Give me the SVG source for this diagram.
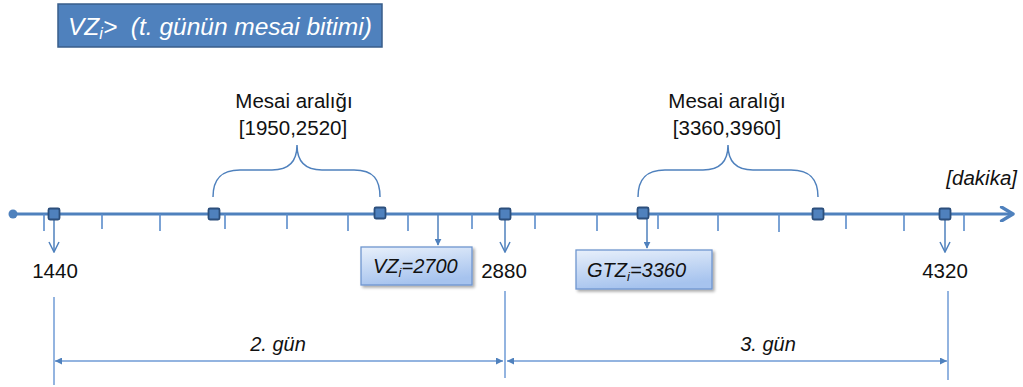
<svg xmlns="http://www.w3.org/2000/svg" width="1023" height="387" viewBox="0 0 1023 387">
  <style>
    .t { font-family: "Liberation Sans", Arial, sans-serif; fill: #111; }
    .num { font-size: 20.5px; text-anchor: middle; }
    .it { font-style: italic; }
    .axis { stroke: #4F81BD; stroke-width: 3; fill: none; }
    .tick { stroke: #5B8CCB; stroke-width: 1.6; }
    .mark { fill: #4F81BD; stroke: #2C4F7C; stroke-width: 1.8; }
    .down { stroke: #4F81BD; stroke-width: 1.5; fill: none; }
    .brace { stroke: #4F81BD; stroke-width: 1.5; fill: none; }
    .dim { stroke: #6F9BD6; stroke-width: 1.5; fill: none; }
    .box { fill: url(#boxFill); stroke: #6F96CF; stroke-width: 1.3; }
  </style>
  <defs>
    <linearGradient id="boxFill" x1="0" y1="0" x2="0.3" y2="1">
      <stop offset="0" stop-color="#E8F0FB"/>
      <stop offset="1" stop-color="#A6C3EE"/>
    </linearGradient>
    <filter id="shadow" x="-10%" y="-20%" width="130%" height="150%">
      <feGaussianBlur in="SourceAlpha" stdDeviation="1.5"/>
      <feOffset dx="1.5" dy="2" result="b"/>
      <feComponentTransfer><feFuncA type="linear" slope="0.35"/></feComponentTransfer>
      <feMerge><feMergeNode/><feMergeNode in="SourceGraphic"/></feMerge>
    </filter>
    <marker id="solidHead" viewBox="0 0 10 10" refX="9" refY="5" markerWidth="7" markerHeight="7" markerUnits="userSpaceOnUse" orient="auto">
      <path d="M0,0 L10,5 L0,10 Z" fill="#4F81BD"/>
    </marker>
    <marker id="openHead" viewBox="0 0 12 12" refX="11" refY="6" markerWidth="12" markerHeight="12" markerUnits="userSpaceOnUse" orient="auto">
      <path d="M1,1 L11,6 L1,11" fill="none" stroke="#4F81BD" stroke-width="1.5"/>
    </marker>
    <marker id="dimHead" viewBox="0 0 10 10" refX="10" refY="5" markerWidth="7" markerHeight="7" markerUnits="userSpaceOnUse" orient="auto-start-reverse">
      <path d="M0,0 L10,5 L0,10 Z" fill="#4F81BD"/>
    </marker>
    <marker id="axisHead" viewBox="0 0 14 14" refX="12" refY="7" markerWidth="16" markerHeight="16" markerUnits="userSpaceOnUse" orient="auto">
      <path d="M2,1 L12,7 L2,13" fill="none" stroke="#4F81BD" stroke-width="3" stroke-linecap="round" stroke-linejoin="round"/>
    </marker>
  </defs>

  <!-- title box -->
  <g id="title">
    <rect x="58" y="4" width="324" height="43" fill="#4F81BD" stroke="#385D8A" stroke-width="1.5"/>
    <text x="68" y="35" font-family="Liberation Sans, Arial, sans-serif" font-size="24.5" font-style="italic" fill="#fff" xml:space="preserve">VZ<tspan font-size="16" dy="4">i</tspan><tspan dy="-4">&gt;  (t. günün mesai bitimi)</tspan></text>
  </g>

  <!-- time axis -->
  <g id="connectors">
    <circle cx="13" cy="214" r="4.5" fill="#4F81BD"/>
    <line class="axis" x1="13" y1="214" x2="1013" y2="214" marker-end="url(#axisHead)"/>
    <g class="tick">
      <line x1="44" y1="214" x2="44" y2="231"/>
      <line x1="102" y1="214" x2="102" y2="229"/>
      <line x1="160" y1="214" x2="160" y2="231"/>
      <line x1="225" y1="214" x2="225" y2="229"/>
      <line x1="287" y1="214" x2="287" y2="229"/>
      <line x1="348" y1="214" x2="348" y2="231"/>
      <line x1="408" y1="214" x2="408" y2="231"/>
      <line x1="472" y1="214" x2="472" y2="229"/>
      <line x1="535" y1="214" x2="535" y2="229"/>
      <line x1="597" y1="214" x2="597" y2="231"/>
      <line x1="658" y1="214" x2="658" y2="229"/>
      <line x1="718" y1="214" x2="718" y2="231"/>
      <line x1="779" y1="214" x2="779" y2="232"/>
      <line x1="846" y1="214" x2="846" y2="229"/>
      <line x1="904" y1="214" x2="904" y2="231"/>
      <line x1="964" y1="214" x2="964" y2="231"/>
    </g>
    <!-- day boundaries -->
    <line class="down" x1="54" y1="219" x2="54" y2="252" marker-end="url(#openHead)"/>
    <line class="down" x1="505" y1="219" x2="505" y2="252" marker-end="url(#openHead)"/>
    <line class="down" x1="945" y1="219" x2="945" y2="252" marker-end="url(#openHead)"/>
    <!-- value pointers -->
    <line class="down" x1="438" y1="215" x2="438" y2="245" marker-end="url(#solidHead)"/>
    <line class="down" x1="647" y1="219" x2="647" y2="248" marker-end="url(#solidHead)"/>
    <!-- working-hour braces -->
    <path class="brace" d="M213,197 C213,180 220,170 240,170 L272,170 C290,170 297,160 297,145 C297,160 304,170 322,170 L354,170 C374,170 380,180 380,197"/>
    <path class="brace" d="M638,197 C638,180 645,170 665,170 L703,170 C721,170 728,160 728,145 C728,160 735,170 753,170 L791,170 C811,170 818,180 818,197"/>
    <!-- day spans -->
    <line class="dim" x1="54" y1="297" x2="54" y2="385"/>
    <line class="dim" x1="505" y1="291" x2="505" y2="378"/>
    <line class="dim" x1="948" y1="291" x2="948" y2="380"/>
    <line class="dim" x1="55" y1="361" x2="503" y2="361" marker-start="url(#dimHead)" marker-end="url(#dimHead)"/>
    <line class="dim" x1="507" y1="361" x2="947" y2="361" marker-start="url(#dimHead)" marker-end="url(#dimHead)"/>
  </g>

  <!-- axis markers -->
  <g id="m1440"><rect class="mark" x="48.5" y="208.5" width="11" height="11" rx="1.5"/></g>
  <g id="m1950"><rect class="mark" x="208.5" y="208.5" width="11" height="11" rx="1.5"/></g>
  <g id="m2520"><rect class="mark" x="374.5" y="207.5" width="11" height="11" rx="1.5"/></g>
  <g id="m2880"><rect class="mark" x="499.5" y="208.5" width="11" height="11" rx="1.5"/></g>
  <g id="m3360"><rect class="mark" x="637.5" y="207.5" width="11" height="11" rx="1.5"/></g>
  <g id="m3960"><rect class="mark" x="812.5" y="208.5" width="11" height="11" rx="1.5"/></g>
  <g id="m4320"><rect class="mark" x="939.5" y="208.5" width="11" height="11" rx="1.5"/></g>

  <!-- labels -->
  <g id="lbl1440"><text class="t num" x="55" y="278">1440</text></g>
  <g id="lbl2880"><text class="t num" x="504" y="278">2880</text></g>
  <g id="lbl4320"><text class="t num" x="945" y="278">4320</text></g>
  <g id="unit"><text class="t it" x="1017" y="185" font-size="20.5" text-anchor="end">[dakika]</text></g>

  <g id="shift1">
    <text class="t" x="294" y="108" font-size="20.5" text-anchor="middle">Mesai aralığı</text>
    <text class="t" x="293" y="135" font-size="20.5" text-anchor="middle">[1950,2520]</text>
  </g>
  <g id="shift2">
    <text class="t" x="727" y="108" font-size="20.5" text-anchor="middle">Mesai aralığı</text>
    <text class="t" x="727" y="135" font-size="20.5" text-anchor="middle">[3360,3960]</text>
  </g>

  <g id="vz">
    <rect class="box" x="361" y="247" width="111" height="38" filter="url(#shadow)"/>
    <text class="t it" x="373" y="273" font-size="20">VZ<tspan font-size="13" dy="4">i</tspan><tspan dy="-4">=2700</tspan></text>
  </g>
  <g id="gtz">
    <rect class="box" x="576" y="250" width="136" height="39" filter="url(#shadow)"/>
    <text class="t it" x="587" y="277" font-size="20">GTZ<tspan font-size="13" dy="4">i</tspan><tspan dy="-4">=3360</tspan></text>
  </g>

  <g id="day2"><text class="t it" x="278" y="351" font-size="20" text-anchor="middle">2. gün</text></g>
  <g id="day3"><text class="t it" x="768" y="351" font-size="20" text-anchor="middle">3. gün</text></g>
</svg>
